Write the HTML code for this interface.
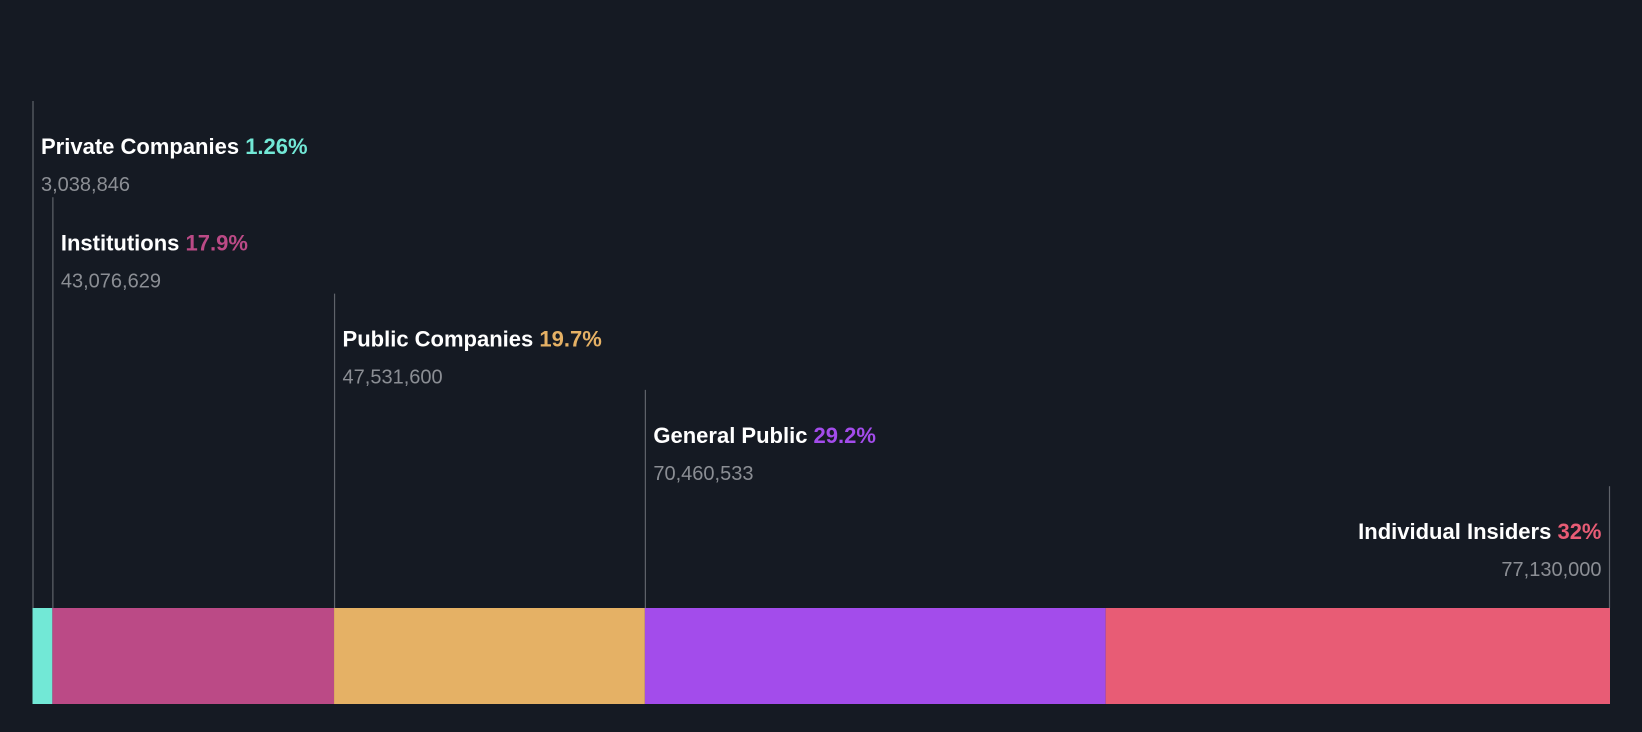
<!DOCTYPE html>
<html><head><meta charset="utf-8"><style>
html,body{margin:0;padding:0;background:#151a23;}
svg{display:block;font-family:"Liberation Sans",Arial,sans-serif;}
</style></head><body>
<svg width="1642" height="732" viewBox="0 0 1642 732" xmlns="http://www.w3.org/2000/svg">
<rect width="1642" height="732" fill="#151a23"/>
<g id="bars"></g>
<g id="labels"></g>
</svg>
<script>
const categories = ["Private Companies","Institutions","Public Companies","General Public","Individual Insiders"];
const shares = [3038846,43076629,47531600,70460533,77130000];
const pctLabels = ["1.26%","17.9%","19.7%","29.2%","32%"];
const valueLabels = ["3,038,846","43,076,629","47,531,600","70,460,533","77,130,000"];
const colors = ["#72e8d6","#bb4a86","#e5b165","#a34ceb","#e85c75"];

const NS="http://www.w3.org/2000/svg";
const x0=32.5, x1=1610, barTop=608, barBottom=704;
const total=shares.reduce((a,b)=>a+b,0);
const xScale=v=>x0+(v/total)*(x1-x0);
const bars=document.getElementById('bars'), labels=document.getElementById('labels');
let cum=0;
shares.forEach((v,i)=>{
  const xs=xScale(cum), xe=xScale(cum+v); cum+=v;
  const r=document.createElementNS(NS,'rect');
  
  
  r.setAttribute('x',xs);r.setAttribute('y',barTop);r.setAttribute('width',xe-xs);r.setAttribute('height',barBottom-barTop);r.setAttribute('fill',colors[i]);
  bars.appendChild(r);
  const last=i===shares.length-1;
  const lx=last?xe-0.5:xs+0.5;
  const top=101+i*96.3;
  const ln=document.createElementNS(NS,'line');
  
  
  ln.setAttribute('x1',lx);ln.setAttribute('x2',lx);ln.setAttribute('y1',top);ln.setAttribute('y2',barTop);
  ln.setAttribute('stroke','#5f636a');ln.setAttribute('stroke-width','1.2');
  labels.appendChild(ln);
  const tx=last?lx-8:lx+8, anchor=last?'end':'start';
  const t=document.createElementNS(NS,'text');
  
  
  t.setAttribute('x',tx);t.setAttribute('y',top+53);t.setAttribute('text-anchor',anchor);
  t.setAttribute('font-size','22');t.setAttribute('font-weight','bold');t.setAttribute('fill','#ffffff');
  const s1=document.createElementNS(NS,'tspan');s1.textContent=categories[i]+' ';
  const s2=document.createElementNS(NS,'tspan');s2.setAttribute('fill',colors[i]);s2.textContent=pctLabels[i];
  t.appendChild(s1);t.appendChild(s2);labels.appendChild(t);
  const t2=document.createElementNS(NS,'text');
  
  
  t2.setAttribute('x',tx);t2.setAttribute('y',top+90);t2.setAttribute('text-anchor',anchor);
  t2.setAttribute('font-size','20');t2.setAttribute('fill','#8b8e94');
  t2.textContent=valueLabels[i];labels.appendChild(t2);
});
</script>
</body></html>
